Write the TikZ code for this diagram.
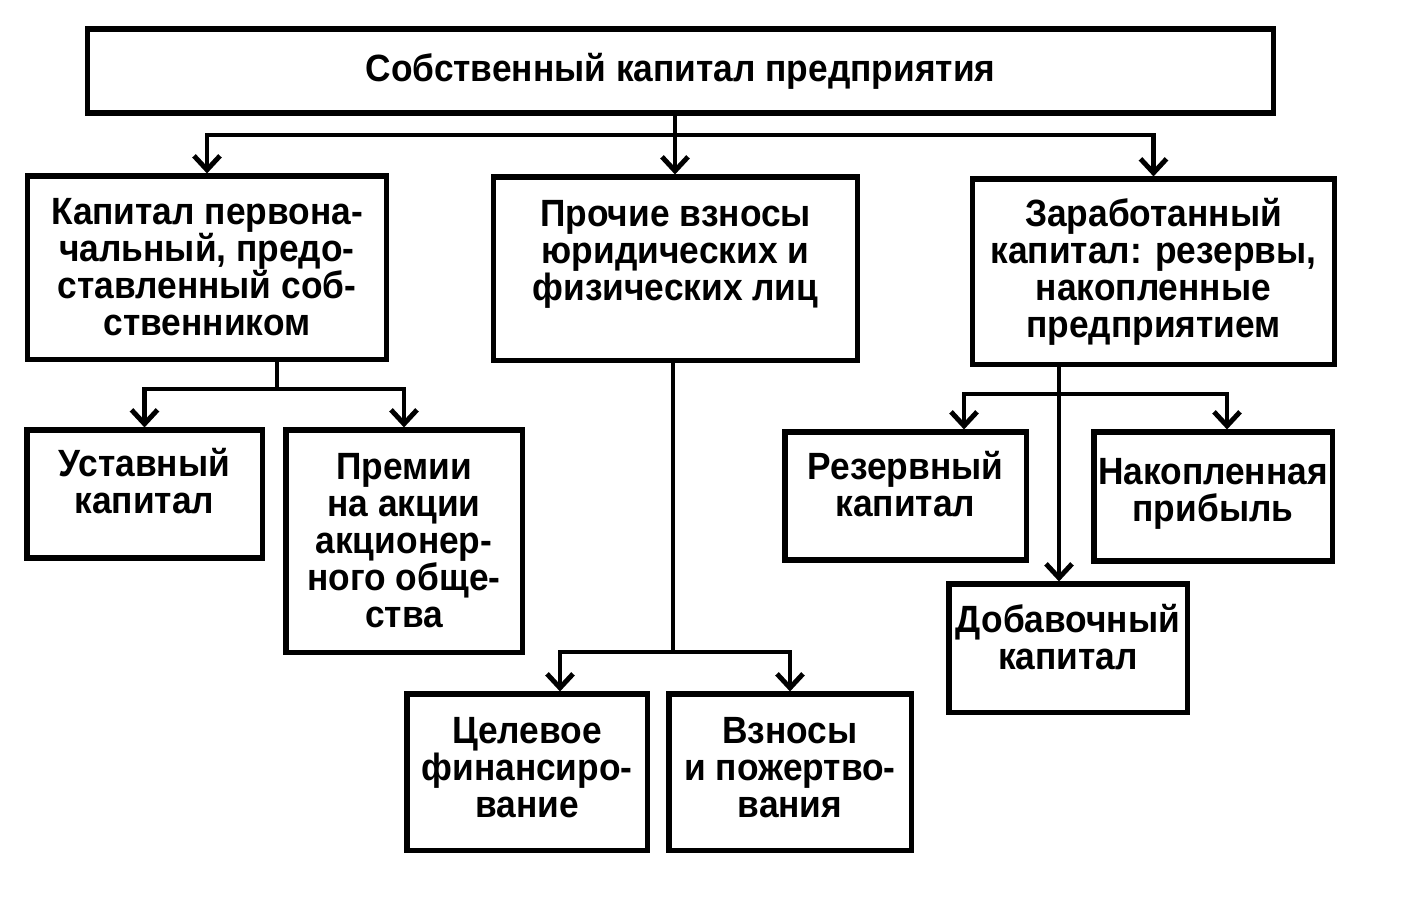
\documentclass[tikz,border=0pt]{standalone}
\usepackage{fontspec}
\setmainfont{Liberation Sans}[UprightFont=* Bold, FakeStretch=0.93]
\usepackage{tikz}
\usetikzlibrary{arrows.meta}

% pushes the text of a box upwards by half of #1
\newcommand\podn[1]{\rule[-#1]{0pt}{0pt}}

\tikzset{
	blok/.style={draw, line width=3.6pt, align=center, inner sep=0pt,
		font=\fontsize{27}{26.3}\selectfont},
	pil/.style={line width=3.5pt, -{Straight Barb[length=0.35cm,width=0.65cm]}},
	lin/.style={line width=3.5pt}
}

\begin{document}
\begin{tikzpicture}[x=0.025cm,y=-0.025cm]
						\useasboundingbox (0,0) rectangle (1419,897);
						
						\node[blok, minimum width=29.625cm, minimum height=2.1cm] (S) at (680.5,71) {Собственный капитал предприятия};
						
						\node[blok, minimum width=8.95cm, minimum height=4.575cm] (K1) at (207,267.5) {Капитал первона-\\чальный, предо-\\ставленный соб-\\ственником};
						\node[blok, minimum width=9.075cm, minimum height=4.575cm] (K2) at (675.5,268.5) {Прочие взносы\\юридических и\\физических лиц\podn{0.9cm}};
						\node[blok, minimum width=9.025cm, minimum height=4.625cm] (K3) at (1153.5,271.5) {Заработанный\\капитал: резервы,\\накопленные\\предприятием};
						
						\node[blok, minimum width=5.875cm, minimum height=3.2cm] (U) at (144.5,494) {Уставный\\капитал\podn{0.65cm}};
						\node[blok, minimum width=5.9cm, minimum height=5.55cm] (P) at (404,541) {Премии\\на акции\\акционер-\\ного обще-\\ства};
						
						\node[blok, minimum width=6cm, minimum height=3.9cm] (C) at (527,772) {Целевое\\финансиро-\\вание\podn{0.25cm}};
						\node[blok, minimum width=6.05cm, minimum height=3.9cm] (V) at (790,772) {Взносы\\и пожертво-\\вания\podn{0.25cm}};
						
						\node[blok, minimum width=6.025cm, minimum height=3.2cm] (R) at (905.5,496) {Резервный\\капитал\podn{0.6cm}};
						\node[blok, minimum width=5.95cm, minimum height=3.225cm] (N) at (1213,496.5) {Накопленная\\прибыль\podn{0.35cm}};
						\node[blok, minimum width=5.95cm, minimum height=3.2cm] (D) at (1068,648) {Добавочный\\капитал\podn{0.55cm}};
						
						\coordinate (A) at (675,135);
						\coordinate (B) at (277,389);
						\coordinate (E) at (673,652);
						\coordinate (F) at (1059,394);
						
						\draw[lin] (A |- S.south) -- (A);
						\draw[pil] (A) -| (K1.north);
						\draw[pil] (A) -- (A |- K2.north);
						\draw[pil] (A) -| (K3.north);
						
						\draw[lin] (B |- K1.south) -- (B);
						\draw[pil] (B) -| (U.north);
						\draw[pil] (B) -| (P.north);
						
						\draw[lin] (E |- K2.south) -- (E);
						\draw[pil] (E) -| ([xshift=0.825cm]C.north);
						\draw[pil] (E) -| (V.north);
						
						\draw[lin] (F |- K3.south) -- (F);
						\draw[pil] (F) -| ([xshift=1.4625cm]R.north);
						\draw[pil] (F) -| ([xshift=0.35cm]N.north);
						\draw[pil] (F) -- (F |- D.north);
					\end{tikzpicture}
\end{document}
